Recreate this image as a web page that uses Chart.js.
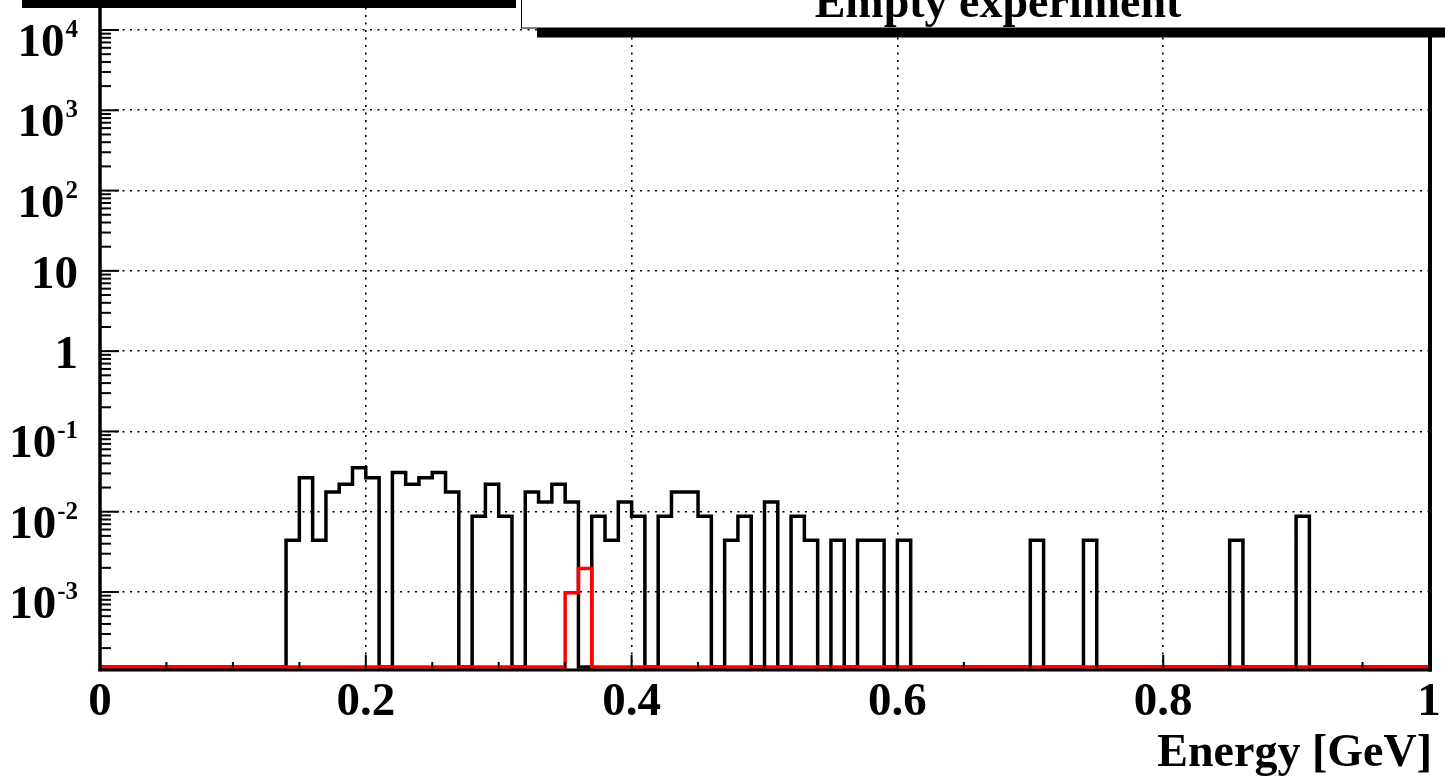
<!DOCTYPE html>
<html>
<head>
<meta charset="utf-8">
<script src="https://cdn.jsdelivr.net/npm/chart.js@4.4.1/dist/chart.umd.min.js"></script>
<style>
html,body{margin:0;padding:0;background:#fff;overflow:hidden;}
canvas{display:block;}
</style>
</head>
<body>
<canvas id="c" width="1445" height="780"></canvas>
<script>
// ---- data ----
const binEdges = [
  0.00,0.01,0.02,0.03,0.04,0.05,0.06,0.07,0.08,0.09,
  0.10,0.11,0.12,0.13,0.14,0.15,0.16,0.17,0.18,0.19,
  0.20,0.21,0.22,0.23,0.24,0.25,0.26,0.27,0.28,0.29,
  0.30,0.31,0.32,0.33,0.34,0.35,0.36,0.37,0.38,0.39,
  0.40,0.41,0.42,0.43,0.44,0.45,0.46,0.47,0.48,0.49,
  0.50,0.51,0.52,0.53,0.54,0.55,0.56,0.57,0.58,0.59,
  0.60,0.61,0.62,0.63,0.64,0.65,0.66,0.67,0.68,0.69,
  0.70,0.71,0.72,0.73,0.74,0.75,0.76,0.77,0.78,0.79,
  0.80,0.81,0.82,0.83,0.84,0.85,0.86,0.87,0.88,0.89,
  0.90,0.91,0.92,0.93,0.94,0.95,0.96,0.97,0.98,0.99,
  1.00
];
const blackValues = [
  0,0,0,0,0,0,0,0,0,0,
  0,0,0,0,0.0044,0.0264,0.0044,0.0176,0.022,0.0352,
  0.0264,0,0.0308,0.022,0.0264,0.0308,0.0176,0,0.0088,0.022,
  0.0088,0,0.0176,0.0132,0.022,0.0132,0,0.0088,0.0044,0.0132,
  0.0088,0,0.0088,0.0176,0.0176,0.0088,0,0.0044,0.0088,0,
  0.0132,0,0.0088,0.0044,0,0.0044,0,0.0044,0.0044,0,
  0.0044,0,0,0,0,0,0,0,0,0,
  0.0044,0,0,0,0.0044,0,0,0,0,0,
  0,0,0,0,0,0.0044,0,0,0,0,
  0.0088,0,0,0,0,0,0,0,0,0
];
const redValues = [
  0,0,0,0,0,0,0,0,0,0,
  0,0,0,0,0,0,0,0,0,0,
  0,0,0,0,0,0,0,0,0,0,
  0,0,0,0,0,0.00098,0.00196,0,0,0,
  0,0,0,0,0,0,0,0,0,0,
  0,0,0,0,0,0,0,0,0,0,
  0,0,0,0,0,0,0,0,0,0,
  0,0,0,0,0,0,0,0,0,0,
  0,0,0,0,0,0,0,0,0,0,
  0,0,0,0,0,0,0,0,0,0
];
const xTickValues = [0, 0.2, 0.4, 0.6, 0.8, 1];
const xTickLabels = ['0', '0.2', '0.4', '0.6', '0.8', '1'];
const xMinorTickValues = [0.05,0.1,0.15,0.25,0.3,0.35,0.45,0.5,0.55,0.65,0.7,0.75,0.85,0.9,0.95];
const yTickValues = [1e-3, 1e-2, 1e-1, 1, 10, 100, 1000, 10000];
const yTickLabels = ['10^-3', '10^-2', '10^-1', '1', '10', '10^2', '10^3', '10^4'];
const yMinorMultipliers = [2,3,4,5,6,7,8,9];
const yMinorDecades = [1e-4,1e-3,1e-2,1e-1,1,10,100,1000,10000];
const xAxisTitle = 'Energy [GeV]';
const chartTitle = 'Empty experiment';
const yAxisMin = 1.164e-4;
const yAxisMax = 23640;

// ---- build histogram outlines ----
function histPoints(values) {
  const pts = values.map((v, i) => ({ x: binEdges[i], y: v > 0 ? v : yAxisMin }));
  const last = values[values.length - 1];
  pts.push({ x: binEdges[binEdges.length - 1], y: last > 0 ? last : yAxisMin });
  return pts;
}

const FONT = "'Liberation Serif', 'Times New Roman', serif";

const rootPlugin = {
  id: 'rootStyle',
  afterDatasetsDraw(chart) {
    const { ctx, chartArea: a, scales } = chart;
    const xs = scales.x, ys = scales.y;
    ctx.save();
    ctx.strokeStyle = '#000';
    ctx.fillStyle = '#000';
    ctx.setLineDash([]);

    // x ticks
    ctx.lineWidth = 2;
    xTickValues.forEach(v => {
      const px = xs.getPixelForValue(v);
      ctx.beginPath(); ctx.moveTo(px, a.bottom + 1); ctx.lineTo(px, a.bottom - 12); ctx.stroke();
    });
    xMinorTickValues.forEach(v => {
      const px = xs.getPixelForValue(v);
      ctx.beginPath(); ctx.moveTo(px, a.bottom + 1); ctx.lineTo(px, a.bottom - 5); ctx.stroke();
    });
    // y ticks
    yTickValues.forEach(v => {
      const py = ys.getPixelForValue(v);
      ctx.beginPath(); ctx.moveTo(a.left, py); ctx.lineTo(a.left + 19, py); ctx.stroke();
    });
    yMinorDecades.forEach(d => {
      yMinorMultipliers.forEach(m => {
        const v = m * d;
        if (v < yAxisMin || v > yAxisMax) return;
        const py = ys.getPixelForValue(v);
        ctx.beginPath(); ctx.moveTo(a.left, py); ctx.lineTo(a.left + 11, py); ctx.stroke();
      });
    });

    // frame
    ctx.lineWidth = 3.5;
    ctx.beginPath(); ctx.moveTo(a.left, 0); ctx.lineTo(a.left, a.bottom + 4.3); ctx.stroke();
    ctx.lineWidth = 3;
    ctx.beginPath(); ctx.moveTo(a.left - 1.5, a.bottom + 3); ctx.lineTo(a.right + 3, a.bottom + 3); ctx.stroke();
    ctx.lineWidth = 4;
    ctx.beginPath(); ctx.moveTo(a.right + 1, 0); ctx.lineTo(a.right + 1, a.bottom + 4.5); ctx.stroke();

    // x labels
    ctx.font = 'bold 47px ' + FONT;
    ctx.textAlign = 'center';
    ctx.textBaseline = 'alphabetic';
    xTickValues.forEach((v, i) => {
      const px = xs.getPixelForValue(v);
      ctx.fillText(xTickLabels[i], px, a.bottom + 48);
    });

    // y labels
    const right = a.left - 22;
    yTickValues.forEach((v, i) => {
      const py = ys.getPixelForValue(v);
      const lab = yTickLabels[i];
      if (lab.indexOf('^') >= 0) {
        const [base, exp] = lab.split('^');
        ctx.font = 'bold 25px ' + FONT;
        const ew = ctx.measureText(exp).width;
        ctx.textAlign = 'left';
        ctx.fillText(exp, right - ew, py + 7);
        ctx.font = 'bold 47px ' + FONT;
        const bw = ctx.measureText(base).width;
        ctx.fillText(base, right - ew - bw - 1, py + 26);
      } else {
        ctx.font = 'bold 47px ' + FONT;
        ctx.textAlign = 'right';
        ctx.fillText(lab, right, py + 17);
      }
    });

    // axis title
    ctx.font = 'bold 46px ' + FONT;
    ctx.textAlign = 'right';
    ctx.fillText(xAxisTitle, a.right + 3, a.bottom + 99);

    // top-left box shadow
    ctx.fillStyle = '#000';
    ctx.fillRect(22, -5, 494, 13);

    // title box with shadow
    ctx.fillRect(537, -10, 1000, 47.5);
    ctx.fillStyle = '#fff';
    ctx.fillRect(521, -10, 1000, 38);
    ctx.lineWidth = 1;
    ctx.strokeStyle = '#000';
    ctx.strokeRect(521.5, -10, 1000, 38);
    ctx.fillStyle = '#000';
    ctx.font = 'bold 46px ' + FONT;
    ctx.textAlign = 'center';
    ctx.fillText(chartTitle, 998, 17);

    ctx.restore();
  }
};

new Chart(document.getElementById('c'), {
  type: 'line',
  data: {
    datasets: [
      {
        label: 'black',
        data: histPoints(blackValues),
        borderColor: '#000',
        borderWidth: 3.5,
        stepped: true,
        pointRadius: 0,
        fill: false,
        order: 2,
        clip: false
      },
      {
        label: 'red',
        data: histPoints(redValues),
        borderColor: '#ff0000',
        borderWidth: 3.5,
        stepped: true,
        pointRadius: 0,
        fill: false,
        order: 1,
        clip: false
      }
    ]
  },
  options: {
    responsive: false,
    devicePixelRatio: 1,
    animation: false,
    events: [],
    layout: { padding: { left: 100, right: 16, top: 0, bottom: 113 } },
    plugins: { legend: { display: false }, tooltip: { enabled: false }, title: { display: false } },
    scales: {
      x: {
        type: 'linear',
        min: 0, max: 1,
        bounds: 'data',
        afterBuildTicks: (axis) => { axis.ticks = xTickValues.map(v => ({ value: v })); },
        ticks: { display: false },
        grid: { color: '#000', lineWidth: 1.6, drawTicks: false },
        border: { display: false, dash: [2, 5.5] }
      },
      y: {
        type: 'logarithmic',
        min: yAxisMin, max: yAxisMax,
        bounds: 'data',
        afterBuildTicks: (axis) => { axis.ticks = yTickValues.map(v => ({ value: v })); },
        ticks: { display: false },
        grid: { color: '#000', lineWidth: 1.6, drawTicks: false },
        border: { display: false, dash: [2, 5.5] }
      }
    }
  },
  plugins: [rootPlugin]
});
</script>
</body>
</html>
